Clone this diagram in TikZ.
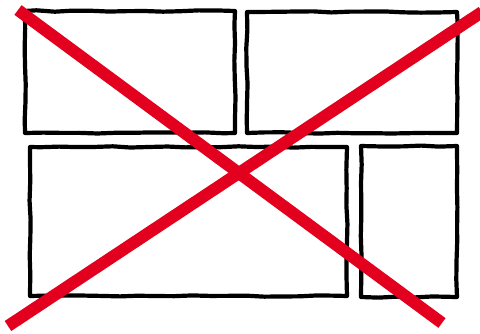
\documentclass[tikz,border=0pt]{standalone}
\usetikzlibrary{decorations.pathmorphing}
\definecolor{xred}{RGB}{226,0,30}
\begin{document}
\begin{tikzpicture}[x=1pt,y=-1pt,
  panel/.style={draw=black,line width=4.2pt,line join=round,
    decorate,decoration={random steps,segment length=18pt,amplitude=0.7pt}},
  cross/.style={draw=xred,line width=12pt,line cap=butt}]
\pgfmathsetseed{7}
\useasboundingbox (0,0) rectangle (480,333);
\draw[panel] (25,11) rectangle (235,133);
\draw[panel] (247,12) rectangle (457,133);
\draw[panel] (30,147) rectangle (347,296);
\draw[panel] (361,146) rectangle (457,297);
\coordinate (a1) at (18,10);
\coordinate (a2) at (442,323);
\coordinate (b1) at (482,12);
\coordinate (b2) at (8,326);
\draw[cross] (a1) -- (a2);
\draw[cross] (b1) -- (b2);
\end{tikzpicture}
\end{document}
